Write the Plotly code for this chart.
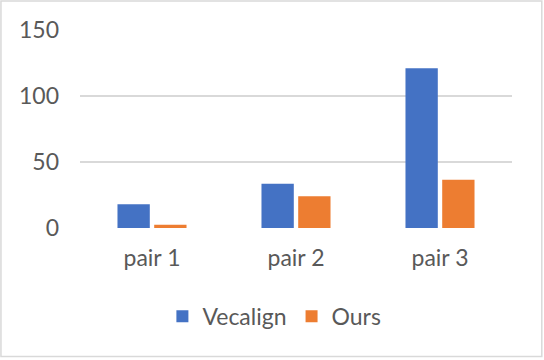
import plotly.graph_objects as go

# data
categories = ["pair 1", "pair 2", "pair 3"]
vecalign = [18, 33.5, 121]
ours = [2.5, 24, 36.5]
y_ticks = [0, 50, 100, 150]

FONT = "Lato, Open Sans, sans-serif"
GREY = "#595959"

fig = go.Figure()
fig.add_trace(go.Bar(x=categories, y=vecalign, name="Vecalign",
                     marker=dict(color="#4472C4", line=dict(width=0))))
fig.add_trace(go.Bar(x=categories, y=ours, name="Ours",
                     marker=dict(color="#ED7D31", line=dict(width=0))))

fig.update_layout(
    width=544, height=360,
    margin=dict(l=80, r=32, t=30, b=131.7),
    paper_bgcolor="white", plot_bgcolor="white",
    font=dict(family=FONT, size=23, color=GREY),
    barmode="group",
    bargap=0.49,
    bargroupgap=0.12,
    showlegend=True,
    legend=dict(orientation="h", x=0.45, xanchor="center",
                y=-0.446, yanchor="middle",
                font=dict(size=23, color=GREY), bgcolor="rgba(0,0,0,0)"),
    xaxis=dict(showgrid=False, showline=False, zeroline=False,
               ticks="", ticklabelstandoff=14),
    yaxis=dict(range=[0, 150], tickvals=y_ticks, showgrid=True,
               gridcolor="#d9d9d9", gridwidth=2, zeroline=False,
               showline=False, ticks="", ticklabelstandoff=20),
)

# light outer frame like the chart area border
fig.add_shape(type="rect", xref="paper", yref="paper",
              x0=-0.183, x1=1.069, y0=-0.649, y1=1.146,
              line=dict(color="#d9d9d9", width=1.5), layer="below")

# drop the default page margin so the figure sits at the window corner
fig.write_html("out.html", config={"displayModeBar": False},
               post_script="document.body.style.margin='0';")
